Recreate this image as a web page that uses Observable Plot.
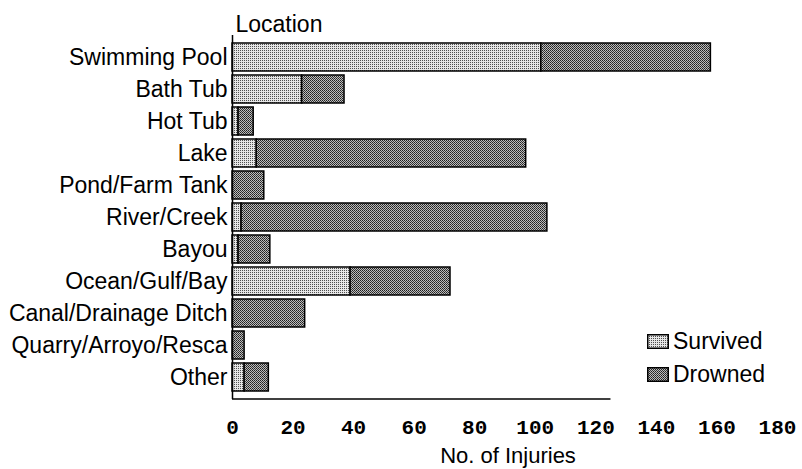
<!DOCTYPE html>
<html>
<head>
<meta charset="utf-8">
<script src="https://cdn.jsdelivr.net/npm/d3@7"></script>
<script src="https://cdn.jsdelivr.net/npm/@observablehq/plot@0.6"></script>
<style>
  body { margin: 0; background: #fff; }
  #wrap { position: relative; width: 802px; height: 469px; font-family: "Liberation Sans", Arial, sans-serif; color: #000; }
  #legend { position: absolute; left: 647px; top: 325px; font-size: 23px; }
  .item { display: flex; align-items: center; height: 33px; }
  .item svg { margin-right: 4px; }
</style>
</head>
<body>
<div id="wrap"></div>
<script>
// ---- data ----
const categories = ["Swimming Pool", "Bath Tub", "Hot Tub", "Lake", "Pond/Farm Tank", "River/Creek",
  "Bayou", "Ocean/Gulf/Bay", "Canal/Drainage Ditch", "Quarry/Arroyo/Resca", "Other"];
const survived = [102, 23, 2, 8, 0, 3, 2, 39, 0, 0, 4];
const drowned  = [56, 14, 5, 89, 10.5, 101, 10.5, 33, 24, 4, 8];
const seriesNames = ["Survived", "Drowned"];
const xTicks = [0, 20, 40, 60, 80, 100, 120, 140, 160, 180];
const xDomain = [0, 180];
const axisLineEnd = 125;
const xAxisLabel = "No. of Injuries";
const yAxisLabel = "Location";

// ---- build table ----
const rows = [];
categories.forEach((c, i) => {
  rows.push({location: c, status: seriesNames[0], count: survived[i]});
  rows.push({location: c, status: seriesNames[1], count: drowned[i]});
});

const ns = "http://www.w3.org/2000/svg";
const patternIds = ["pat-survived", "pat-drowned"];

const chart = Plot.plot({
  width: 802,
  height: 469,
  marginLeft: 232,
  marginRight: 25,
  marginTop: 35,
  marginBottom: 70,
  style: {fontFamily: "'Liberation Sans', Arial, sans-serif", fontSize: "23px", background: "#fff", color: "#000"},
  x: {domain: xDomain},
  y: {domain: categories, padding: 0.14},
  color: {domain: seriesNames, range: patternIds.map(id => `url(#${id})`)},
  marks: [
    Plot.barX(rows.filter(d => d.count > 0), Plot.stackX({
      y: "location", x: "count", fill: "status", stroke: "#000", strokeWidth: 1.5
    })),
    Plot.ruleX([0], {stroke: "#000", strokeWidth: 1.5}),
    (index, scales, values, dims) => {
      const line = document.createElementNS(ns, "line");
      const yb = dims.height - dims.marginBottom;
      line.setAttribute("x1", scales.x(0));
      line.setAttribute("x2", scales.x(axisLineEnd));
      line.setAttribute("y1", yb);
      line.setAttribute("y2", yb);
      line.setAttribute("stroke", "#000");
      line.setAttribute("stroke-width", 1.5);
      return line;
    },
    Plot.axisY({tickSize: 0, tickPadding: 5, label: null, fontSize: 23}),
    Plot.axisX({ticks: xTicks, tickSize: 0, tickPadding: 20, label: null,
      fontFamily: "'Liberation Mono', 'Courier New', monospace", fontSize: 21, fontWeight: "bold"}),
    Plot.text([yAxisLabel], {text: d => d, frameAnchor: "top-left", lineAnchor: "middle", textAnchor: "start", dx: 3, dy: -11, fontSize: 23}),
    Plot.text([xAxisLabel], {text: d => d, frameAnchor: "bottom", lineAnchor: "middle", dx: 3, dy: 56, fontSize: 22})
  ]
});

// stipple patterns
const defs = document.createElementNS(ns, "defs");
defs.innerHTML = `
  <pattern id="pat-survived" width="2" height="2" patternUnits="userSpaceOnUse">
    <rect width="2" height="2" fill="#e6e6e6"/>
    <rect x="0" y="0" width="1" height="1" fill="#505050"/>
  </pattern>
  <pattern id="pat-drowned" width="2" height="2" patternUnits="userSpaceOnUse">
    <rect width="2" height="2" fill="#bcbcbc"/>
    <rect x="0" y="0" width="1" height="1" fill="#202020"/>
    <rect x="1" y="1" width="1" height="1" fill="#3a3a3a"/>
  </pattern>`;
chart.insertBefore(defs, chart.firstChild);

const wrap = document.getElementById("wrap");
wrap.appendChild(chart);

// legend
const legend = document.createElement("div");
legend.id = "legend";
seriesNames.forEach((name, i) => {
  const item = document.createElement("div");
  item.className = "item";
  item.innerHTML = `<svg width="22" height="15"><rect x="0.75" y="0.75" width="20.5" height="13.5" fill="url(#${patternIds[i]})" stroke="#000" stroke-width="1.5"/></svg><span>${name}</span>`;
  legend.appendChild(item);
});
wrap.appendChild(legend);
</script>
</body>
</html>
